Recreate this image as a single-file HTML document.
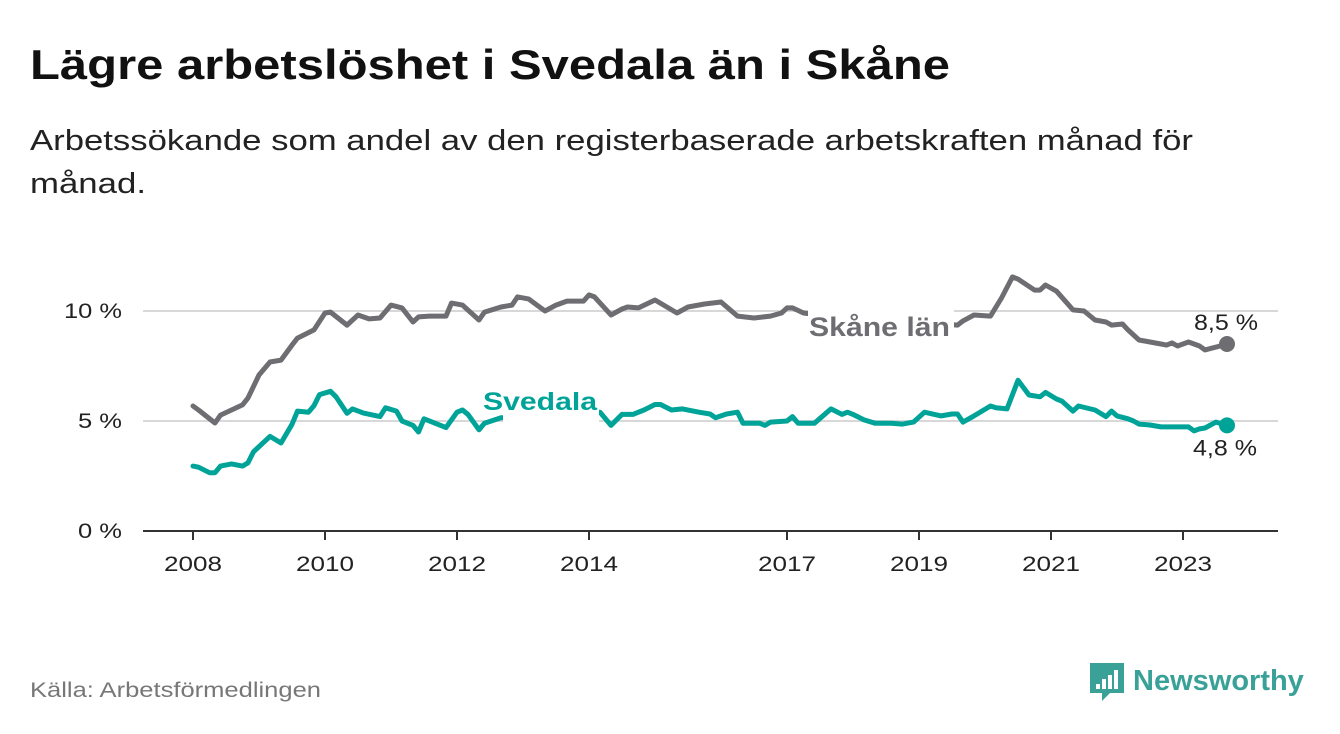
<!DOCTYPE html>
<html><head><meta charset="utf-8"><style>
body{margin:0;width:1340px;height:734px;background:#fff;font-family:"Liberation Sans","DejaVu Sans",sans-serif;overflow:hidden}
</style></head><body>
<svg width="1340" height="734" style="position:absolute;left:0;top:0">
<text x="30" y="79" font-size="42" font-weight="bold" fill="#111" textLength="920" lengthAdjust="spacingAndGlyphs">Lägre arbetslöshet i Svedala än i Skåne</text>
<text x="30" y="150" font-size="29" fill="#222" textLength="1163" lengthAdjust="spacingAndGlyphs">Arbetssökande som andel av den registerbaserade arbetskraften månad för</text>
<text x="30" y="193" font-size="29" fill="#222" textLength="116" lengthAdjust="spacingAndGlyphs">månad.</text>
<g id="plot"></g>
<text x="30" y="697" font-size="21" fill="#777" textLength="291" lengthAdjust="spacingAndGlyphs">Källa: Arbetsförmedlingen</text>
<g>
<path d="M1090 663 h34 v30 h-14 l-8 8 v-8 h-12z" fill="#3aa198"/>
<rect x="1096" y="684" width="4" height="5" fill="#fff"/><rect x="1102" y="679" width="4" height="10" fill="#fff"/><rect x="1108" y="675" width="4" height="14" fill="#fff"/><rect x="1114" y="670" width="4" height="19" fill="#fff"/>
<text x="1133" y="690" font-size="29" font-weight="bold" fill="#3aa198">Newsworthy</text>
</g>
</svg>
<script>
const yearTicks=[2008,2010,2012,2014,2017,2019,2021,2023];
const yTicks=[0,5,10];
const skaneMonths=[0,1,4,5,9,10,12,14,16,18,19,22,24,25,28,30,32,34,36,38,40,41,43,46,47,49,52,53,56,58,59,61,64,66,68,71,72,73,76,78,79,81,84,88,90,93,96,99,102,105,107,108,109,111,118,125,132,139,140,142,145,147,149,150,153,154,155,157,160,162,164,166,167,169,170,172,174,176,177,178,179,181,183,184,186,188];
const skaneValues=[5.68,5.5,4.91,5.27,5.73,6.05,7.09,7.68,7.77,8.45,8.77,9.14,9.91,9.95,9.36,9.82,9.64,9.68,10.27,10.14,9.5,9.73,9.77,9.77,10.36,10.27,9.59,9.95,10.18,10.27,10.64,10.55,10.0,10.27,10.45,10.45,10.73,10.64,9.82,10.09,10.18,10.14,10.5,9.91,10.18,10.32,10.41,9.77,9.68,9.77,9.91,10.14,10.14,9.91,9.7,9.6,9.5,9.36,9.55,9.82,9.77,10.59,11.55,11.45,10.95,10.95,11.18,10.9,10.05,10.0,9.59,9.5,9.36,9.41,9.14,8.68,8.59,8.5,8.45,8.55,8.41,8.59,8.41,8.23,8.36,8.5];
const svedalaMonths=[0,1,3,4,5,7,9,10,11,14,16,18,19,21,22,23,25,26,28,29,31,34,35,37,38,40,41,42,46,48,49,50,52,53,56,62,68,74,76,78,80,82,84,85,87,89,92,94,95,97,99,100,103,104,105,108,109,110,113,116,118,119,120,122,124,127,129,131,133,136,138,139,140,142,145,146,148,150,152,154,155,157,158,160,161,164,166,167,168,170,171,172,174,176,178,181,182,183,184,186,188];
const svedalaValues=[2.95,2.9,2.65,2.65,2.95,3.05,2.95,3.1,3.6,4.3,4.0,4.85,5.45,5.4,5.7,6.2,6.35,6.1,5.35,5.55,5.36,5.2,5.6,5.45,5.0,4.8,4.5,5.1,4.7,5.4,5.5,5.3,4.6,4.9,5.15,5.2,5.3,5.4,4.8,5.3,5.3,5.5,5.75,5.75,5.5,5.55,5.4,5.32,5.15,5.32,5.4,4.9,4.9,4.8,4.95,5.0,5.2,4.9,4.9,5.55,5.3,5.4,5.3,5.05,4.9,4.9,4.86,4.95,5.4,5.23,5.32,5.32,4.95,5.23,5.68,5.6,5.55,6.85,6.18,6.1,6.3,6.0,5.9,5.45,5.68,5.5,5.2,5.45,5.23,5.1,5.0,4.86,4.82,4.73,4.73,4.73,4.55,4.64,4.68,4.95,4.8];
const NS='http://www.w3.org/2000/svg';
const g=document.getElementById('plot');
const X0=193,PXY=66,Y0=531,PXV=22;
function xm(m){return X0+m*PXY/12;}
function xy(yr){return X0+(yr-2008)*PXY;}
function yv(v){return Y0-v*PXV;}
function mk(t,a,txt){const e=document.createElementNS(NS,t);for(const k in a)e.setAttribute(k,a[k]);if(txt!=null)e.textContent=txt;g.appendChild(e);return e;}
yTicks.forEach(v=>{
 if(v>0){const l=mk('line',{x1:143,x2:1278,y1:yv(v),y2:yv(v),stroke:'#d8d8d8','stroke-width':2});
 
 }
 const lbl=v+' %';
 const t=mk('text',{x:122,y:yv(v)+7,'text-anchor':'end','font-size':21,fill:'#222',textLength:lbl.length>3?58:44,lengthAdjust:'spacingAndGlyphs'},lbl);
 
 
});
const ax=mk('line',{x1:143,x2:1278,y1:Y0,y2:Y0,stroke:'#333','stroke-width':2});


yearTicks.forEach(y=>{
 const tk=mk('line',{x1:xy(y),x2:xy(y),y1:Y0,y2:Y0+9,stroke:'#333','stroke-width':2});
 
 
 const t=mk('text',{x:xy(y),y:571,'text-anchor':'middle','font-size':21,fill:'#222',textLength:58,lengthAdjust:'spacingAndGlyphs'},String(y));
 
 
});
function line(ms,vs,col,name){
 const d=ms.map((m,i)=>(i?'L':'M')+xm(m).toFixed(1)+' '+yv(vs[i]).toFixed(1)).join(' ');
 const p=mk('path',{d:d,fill:'none',stroke:col,'stroke-width':5,'stroke-linejoin':'round','stroke-linecap':'round'});
 
 
 const n=ms.length-1;
 const c=mk('circle',{cx:xm(ms[n]),cy:yv(vs[n]),r:8,fill:col});
 
 
 return [xm(ms[n]),yv(vs[n]),vs[n]];
}
const s=line(skaneMonths,skaneValues,'#6e6d72','skane');
const v=line(svedalaMonths,svedalaValues,'#00a398','svedala');
const r1=mk('rect',{x:808,y:300,width:146,height:44,fill:'#fff'});


const l1=mk('text',{x:809,y:336,'font-size':27,'font-weight':'bold',fill:'#6e6d72',textLength:141,lengthAdjust:'spacingAndGlyphs'},'Skåne län');


const r2=mk('rect',{x:503,y:380,width:96,height:50,fill:'#fff'});


const l2=mk('text',{x:483,y:410,'font-size':25,'font-weight':'bold',fill:'#00a398',textLength:114,lengthAdjust:'spacingAndGlyphs'},'Svedala');


const e1=mk('text',{x:s[0]-1,y:s[1]-14,'text-anchor':'middle','font-size':22,fill:'#222',textLength:64,lengthAdjust:'spacingAndGlyphs'},String(s[2].toFixed(1)).replace('.',',')+' %');


const e2=mk('text',{x:v[0]-2,y:v[1]+30,'text-anchor':'middle','font-size':22,fill:'#222',textLength:64,lengthAdjust:'spacingAndGlyphs'},String(v[2].toFixed(1)).replace('.',',')+' %');


</script>
</body></html>
